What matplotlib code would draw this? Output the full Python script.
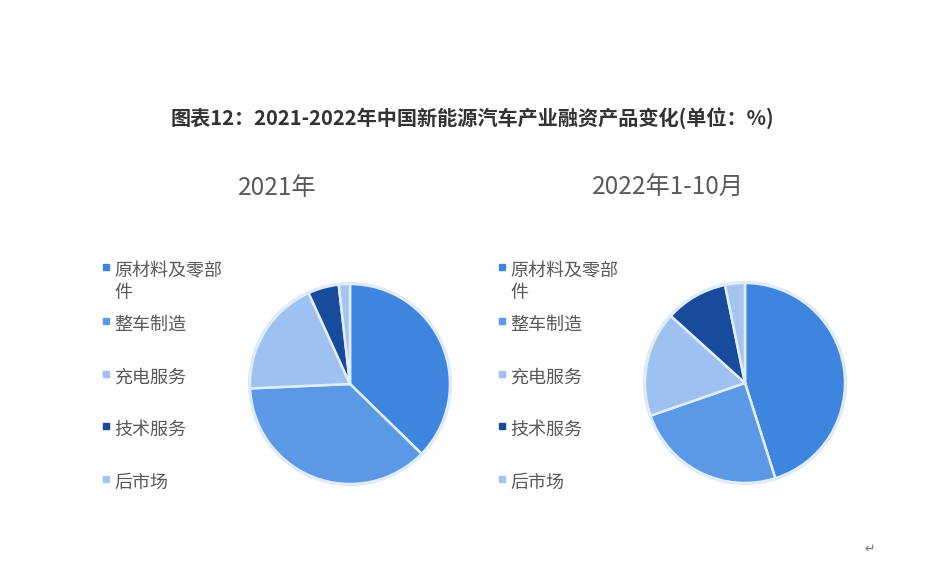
import numpy as np
import matplotlib.pyplot as plt
from matplotlib.patches import Rectangle

plt.rcParams['font.family'] = ['Noto Sans CJK SC', 'DejaVu Sans']

# Donnees
categories = ['原材料及零部件', '整车制造', '充电服务', '技术服务', '后市场']
legend_labels = ['原材料及零部\n件', '整车制造', '充电服务', '技术服务', '后市场']
valeurs_2021 = [37.3, 37.0, 18.9, 5.0, 1.8]
valeurs_2022 = [45.1, 24.6, 17.0, 10.1, 3.2]
titre = '图表12：2021-2022年中国新能源汽车产业融资产品变化(单位：%)'
sous_titres = ['2021年', '2022年1-10月']

couleurs = ['#3e85e0', '#5b98e6', '#9dc1f1', '#174b9c', '#a3c5f0']
W, H = 948, 564


def pie_axes(fig, cx, cy, r):
    ax = fig.add_axes([(cx - r) / W, (H - cy - r) / H, 2 * r / W, 2 * r / H])
    return ax


def tracer_pie(ax, valeurs):
    ax.pie(valeurs, colors=couleurs, startangle=90, counterclock=False,
           radius=1.0, wedgeprops=dict(edgecolor='#e3edf9', linewidth=1.8))
    # leger halo autour du camembert
    halo = plt.Circle((0, 0), 1.02, color='#d6e6fa', zorder=0, lw=0)
    ax.add_patch(halo)
    ax.set_xlim(-1.06, 1.06)
    ax.set_ylim(-1.06, 1.06)
    ax.set_aspect('equal')
    ax.axis('off')


def tracer_legende(fig, x_marqueur, ys):
    for lab, c, y in zip(legend_labels, couleurs, ys):
        fig.patches.append(Rectangle(((x_marqueur - 3) / W, 1 - (y + 3) / H), 6 / W, 6 / H,
                                     transform=fig.transFigure, color=c, figure=fig))
        fig.text((x_marqueur + 8) / W, 1 - (y - 5) / H, lab, fontsize=13, color='#595959',
                 va='top', ha='left', linespacing=1.25)


fig = plt.figure(figsize=(9.48, 5.64), dpi=100)
fig.patch.set_facecolor('white')

fig.text(472 / W, 1 - 118 / H, titre, fontsize=14.5, fontweight='bold', color='#333333',
         ha='center', va='center')

ax1 = pie_axes(fig, 350, 384, 106)
tracer_pie(ax1, valeurs_2021)
ax2 = pie_axes(fig, 745, 383, 106)
tracer_pie(ax2, valeurs_2022)

fig.text(277 / W, 1 - 188 / H, sous_titres[0], fontsize=17.5, color='#595959', ha='center', va='center')
fig.text(668 / W, 1 - 188 / H, sous_titres[1], fontsize=17.5, color='#595959', ha='center', va='center')

ys = [267, 321, 374, 426, 479]
tracer_legende(fig, 106, ys)
tracer_legende(fig, 502, ys)

fig.text(870 / W, 1 - 549 / H, '↵', fontsize=9, color='#777777', ha='center', va='center',
         family=['DejaVu Sans'])

plt.savefig('out.png', dpi=100, facecolor='white')
